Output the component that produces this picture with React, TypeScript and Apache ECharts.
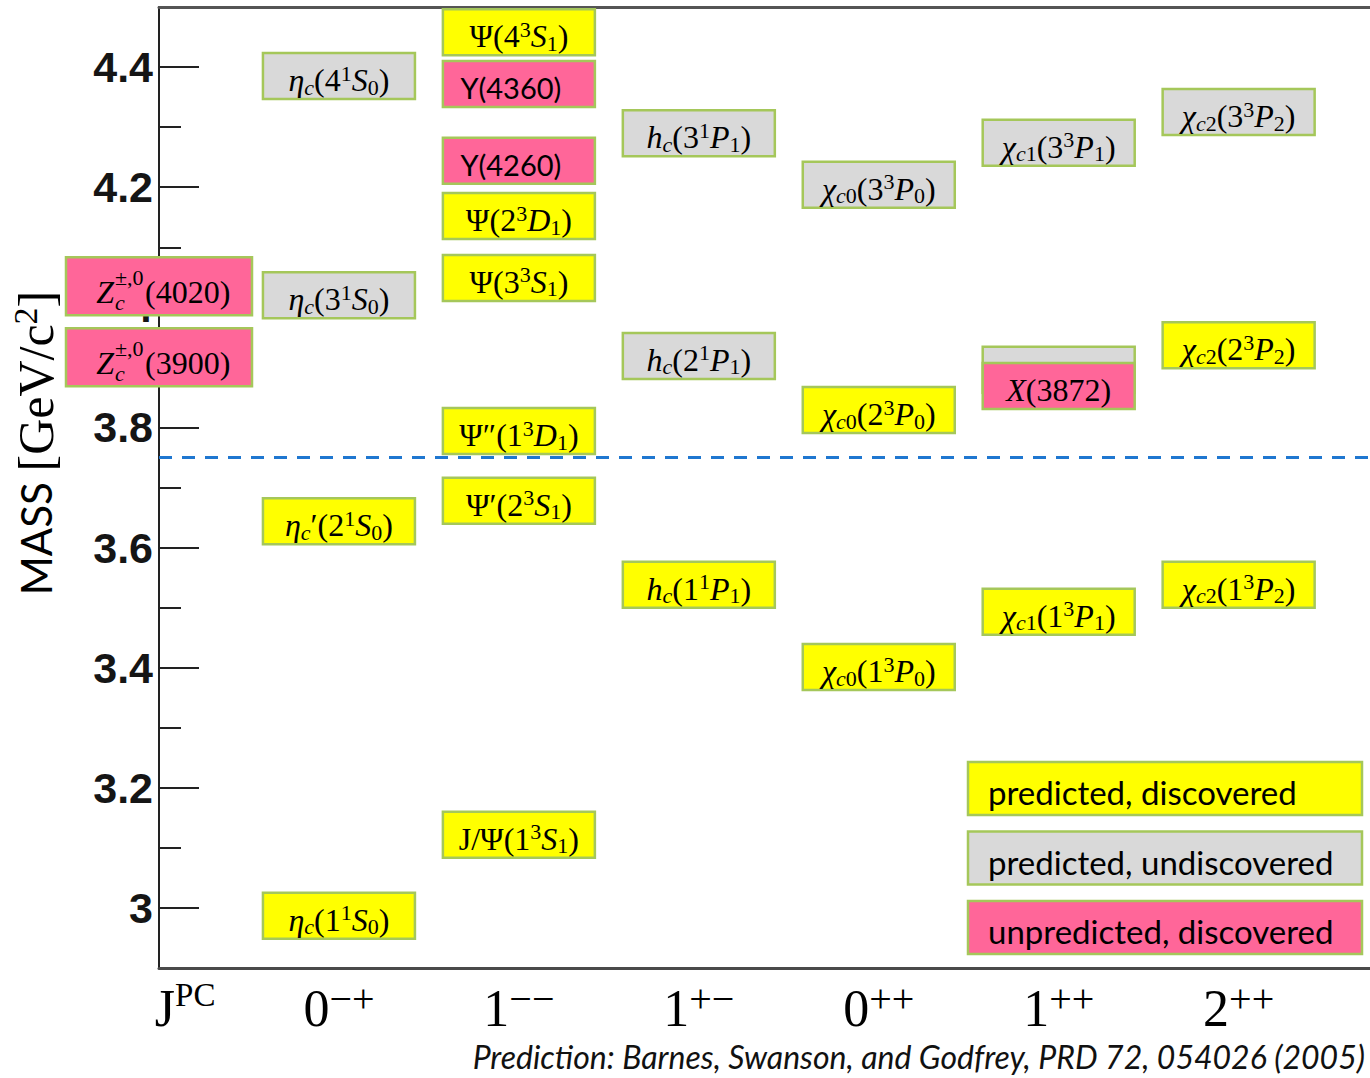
import React, { useEffect, useRef } from 'react';
import * as echarts from 'echarts';

const SERIF = '"Liberation Serif", "DejaVu Serif", serif';
const SANS = 'Lato, "Liberation Sans", sans-serif';
const BORDER = '#a5c75a';
const YELLOW = '#ffff00';
const GRAY = '#d9d9d9';
const PINK = '#ff6699';

// x-axis: J^PC column labels and their positions
const jpcLabels = ['{n|J}{p|PC}', '{n|0}{s|−+}', '{n|1}{s|−−}', '{n|1}{s|+−}', '{n|0}{s|++}', '{n|1}{s|++}', '{n|2}{s|++}'];
const jpcPositions = [0.145, 1, 2, 3, 4, 5, 6];

// y-axis
const massRange = [2.9, 4.5];
const majorTicks = [3, 3.2, 3.4, 3.6, 3.8, 4, 4.2, 4.4];
const minorTicks = [3.1, 3.3, 3.5, 3.7, 3.9, 4.1, 4.3];
const thresholdMass = 3.754;

// [column, mass (GeV), label]
const predictedDiscovered: [number, number, string][] = [
  [1, 3.644, 'η_c′(2^1S_0)'],
  [1, 2.987, 'η_c(1^1S_0)'],
  [2, 4.458, 'Ψ(4^3S_1)'],
  [2, 4.152, 'Ψ(2^3D_1)'],
  [2, 4.049, 'Ψ(3^3S_1)'],
  [2, 3.794, 'Ψ″(1^3D_1)'],
  [2, 3.678, 'Ψ′(2^3S_1)'],
  [2, 3.122, '`J/Ψ(1^3S_1)'],
  [3, 3.538, 'h_c(1^1P_1)'],
  [4, 3.829, 'χ_{c0}(2^3P_0)'],
  [4, 3.401, 'χ_{c0}(1^3P_0)'],
  [5, 3.493, 'χ_{c1}(1^3P_1)'],
  [6, 3.937, 'χ_{c2}(2^3P_2)'],
  [6, 3.538, 'χ_{c2}(1^3P_2)'],
];
const predictedUndiscovered: [number, number, string][] = [
  [1, 4.385, 'η_c(4^1S_0)'],
  [1, 4.02, 'η_c(3^1S_0)'],
  [3, 4.29, 'h_c(3^1P_1)'],
  [3, 3.919, 'h_c(2^1P_1)'],
  [4, 4.204, 'χ_{c0}(3^3P_0)'],
  [5, 4.274, 'χ_{c1}(3^3P_1)'],
  [5, 3.896, ''],
  [6, 4.325, 'χ_{c2}(3^3P_2)'],
];
const unpredictedDiscovered: [number, number, string][] = [
  [5, 3.869, 'X(3872)'],
];
const unpredictedVector: [number, number, string][] = [
  [2, 4.372, 'Y(4360)'],
  [2, 4.244, 'Y(4260)'],
];
const zcStates: [number, number, string][] = [
  [0, 4.035, '4020'],
  [0, 3.917, '3900'],
];
const legendItems = ['predicted, discovered', 'predicted, undiscovered', 'unpredicted, discovered'];
const legendColors = [YELLOW, GRAY, PINK];
const caption = 'Prediction: Barnes, Swanson, and Godfrey, PRD 72, 054026 (2005)';

function isItalicChar(ch: string) {
  return /[A-Za-zα-ω]/.test(ch);
}

function toRich(s: string): string {
  const toks: { st: string; ch: string }[] = [];
  let i = 0;
  let upright = false;
  const push = (mode: string, ch: string) => {
    if (ch === '`') { upright = true; return; }
    const it = !upright && isItalicChar(ch);
    upright = false;
    toks.push({ st: mode + (it ? 'i' : 'n'), ch });
  };
  while (i < s.length) {
    const ch = s[i];
    if (ch === '_' || ch === '^') {
      const mode = ch === '_' ? 'b' : 's';
      i++;
      let grp: string;
      if (s[i] === '{') {
        const j = s.indexOf('}', i);
        grp = s.slice(i + 1, j);
        i = j + 1;
      } else {
        grp = s[i];
        i++;
      }
      for (const g of grp) push(mode, g);
    } else {
      push('', ch);
      i++;
    }
  }
  let out = '';
  let cur = '';
  let buf = '';
  for (const t of toks) {
    const st = t.st.length === 1 ? 'm' + t.st : t.st;
    if (st !== cur && buf) {
      out += `{${cur}|${buf}}`;
      buf = '';
    }
    cur = st;
    buf += t.ch;
  }
  if (buf) out += `{${cur}|${buf}}`;
  return out;
}

const MAIN = 32;
const SMALL = 22;
const BOX_RICH: any = {
  mn: { fontFamily: SERIF, fontSize: MAIN, lineHeight: 36, verticalAlign: 'middle', fill: '#000' },
  mi: { fontFamily: SERIF, fontSize: MAIN, fontStyle: 'italic', lineHeight: 36, verticalAlign: 'middle', fill: '#000' },
  sn: { fontFamily: SERIF, fontSize: SMALL, lineHeight: 25, verticalAlign: 'top', fill: '#000' },
  si: { fontFamily: SERIF, fontSize: SMALL, fontStyle: 'italic', lineHeight: 25, verticalAlign: 'top', fill: '#000' },
  bn: { fontFamily: SERIF, fontSize: SMALL, lineHeight: 19, verticalAlign: 'bottom', fill: '#000' },
  bi: { fontFamily: SERIF, fontSize: SMALL, fontStyle: 'italic', lineHeight: 19, verticalAlign: 'bottom', fill: '#000' },
};

const BOX_W = 152;
const BOX_H = 46;
const ZC_W = 186;
const ZC_H = 58;

function boxRenderer(rows: [number, number, string][], fill: string, sans: boolean) {
  return (params: any, api: any) => {
    const p = api.coord([api.value(0), api.value(1)]);
    const label = rows[params.dataIndex][2];
    const children: any[] = [
      {
        type: 'rect',
        shape: { x: p[0] - BOX_W / 2, y: p[1] - BOX_H / 2, width: BOX_W, height: BOX_H },
        style: { fill, stroke: BORDER, lineWidth: 2.5 },
      },
    ];
    if (label) {
      children.push(
        sans
          ? {
              type: 'text',
              x: p[0] - 8,
              y: p[1] + 4,
              style: { text: label, font: `29px ${SANS}`, fill: '#000', align: 'center', verticalAlign: 'middle' },
            }
          : {
              type: 'text',
              x: p[0],
              y: p[1] + 4,
              style: { text: toRich(label), rich: BOX_RICH, fill: '#000', align: 'center', verticalAlign: 'middle', font: `${MAIN}px ${SERIF}` },
            }
      );
    }
    return { type: 'group', children };
  };
}

function zcRenderer(params: any, api: any) {
  const p = api.coord([api.value(0), api.value(1)]);
  const m = zcStates[params.dataIndex][2];
  const ax = p[0] - 45;
  return {
    type: 'group',
    children: [
      {
        type: 'rect',
        shape: { x: p[0] - ZC_W / 2, y: p[1] - ZC_H / 2, width: ZC_W, height: ZC_H },
        style: { fill: PINK, stroke: BORDER, lineWidth: 2.5 },
      },
      { type: 'text', x: ax, y: p[1] + 6, style: { text: 'Z', font: `italic ${MAIN}px ${SERIF}`, fill: '#000', align: 'right', verticalAlign: 'middle' } },
      { type: 'text', x: ax + 1, y: p[1] - 9, style: { text: '±,0', font: `${SMALL}px ${SERIF}`, fill: '#000', align: 'left', verticalAlign: 'middle' } },
      { type: 'text', x: ax + 1, y: p[1] + 16, style: { text: 'c', font: `italic ${SMALL}px ${SERIF}`, fill: '#000', align: 'left', verticalAlign: 'middle' } },
      { type: 'text', x: ax + 31, y: p[1] + 6, style: { text: `(${m})`, font: `${MAIN}px ${SERIF}`, fill: '#000', align: 'left', verticalAlign: 'middle' } },
    ],
  };
}

function boxSeries(name: string, rows: [number, number, string][], fill: string, sans = false, extra: any = {}) {
  return {
    name,
    type: 'custom',
    silent: true,
    clip: false,
    xAxisIndex: 0,
    yAxisIndex: 0,
    renderItem: boxRenderer(rows, fill, sans),
    encode: { x: 0, y: 1 },
    data: rows.map((r) => [r[0], r[1]]),
    ...extra,
  };
}

export default function App() {
  const ref = useRef<HTMLDivElement>(null);
  useEffect(() => {
    if (!ref.current) return;
    const chart = echarts.init(ref.current, null, { renderer: 'svg' });
    const xMax = 6.73;
    const option: any = {
      animation: false,
      backgroundColor: '#fff',
      grid: { left: 159, right: 0, top: 7, bottom: 110, containLabel: false },
      xAxis: [
        {
          type: 'value',
          min: 0,
          max: xMax,
          position: 'bottom',
          axisLine: { show: true, onZero: false, lineStyle: { color: '#4a4a4a', width: 3 } },
          axisTick: { show: false },
          splitLine: { show: false },
          axisLabel: {
            customValues: jpcPositions,
            margin: 10,
            formatter: (v: number) => {
              const k = jpcPositions.findIndex((q) => Math.abs(q - v) < 1e-6);
              return k >= 0 ? jpcLabels[k] : '';
            },
            rich: {
              n: { fontFamily: SERIF, fontSize: 52, lineHeight: 60, verticalAlign: 'middle', color: '#000' },
              s: { fontFamily: SERIF, fontSize: 40, lineHeight: 38, verticalAlign: 'top', color: '#000' },
              p: { fontFamily: SERIF, fontSize: 33, lineHeight: 32, verticalAlign: 'top', color: '#000' },
            },
          },
        },
        {
          type: 'value',
          min: 0,
          max: xMax,
          position: 'top',
          axisLine: { show: true, onZero: false, lineStyle: { color: '#555', width: 3 } },
          axisTick: { show: false },
          axisLabel: { show: false },
          splitLine: { show: false },
        },
      ],
      yAxis: [
        {
          type: 'value',
          min: massRange[0],
          max: massRange[1],
          position: 'left',
          axisLine: { show: true, onZero: false, lineStyle: { color: '#222', width: 2 } },
          axisTick: { show: true, inside: true, length: 40, customValues: majorTicks, lineStyle: { color: '#222', width: 2 } },
          axisLabel: {
            customValues: majorTicks,
            margin: 6,
            fontFamily: '"Liberation Sans", Arial, sans-serif',
            fontWeight: 'bold',
            fontSize: 43,
            color: '#151515',
          },
          splitLine: { show: false },
        },
        {
          type: 'value',
          min: massRange[0],
          max: massRange[1],
          position: 'left',
          axisLine: { show: false },
          axisTick: { show: true, inside: true, length: 22, customValues: minorTicks, lineStyle: { color: '#222', width: 2 } },
          axisLabel: { show: false },
          splitLine: { show: false },
        },
      ],
      series: [
        boxSeries('predicted, discovered', predictedDiscovered, YELLOW, false, {
          markLine: {
            silent: true,
            symbol: ['none', 'none'],
            label: { show: false },
            lineStyle: { type: [13, 10], width: 3, color: '#1f77d0' },
            data: [{ yAxis: thresholdMass }],
          },
        }),
        boxSeries('predicted, undiscovered', predictedUndiscovered, GRAY),
        boxSeries('unpredicted, discovered', unpredictedDiscovered, PINK),
        boxSeries('unpredicted vector', unpredictedVector, PINK, true),
        {
          name: 'Zc',
          type: 'custom',
          silent: true,
          clip: false,
          renderItem: zcRenderer,
          encode: { x: 0, y: 1 },
          data: zcStates.map((r) => [r[0], r[1]]),
        },
      ],
      graphic: [
        ...legendItems.map((t, k) => ({
          type: 'group',
          x: 968,
          y: 762 + k * 69.5,
          children: [
            { type: 'rect', shape: { x: 0, y: 0, width: 394, height: 53 }, style: { fill: legendColors[k], stroke: BORDER, lineWidth: 2.5 } },
            { type: 'text', x: 20, y: 30, style: { text: t, font: `33px ${SANS}`, fill: '#000', align: 'left', verticalAlign: 'middle' } },
          ],
        })),
        {
          type: 'text',
          x: 36,
          y: 443,
          rotation: Math.PI / 2,
          style: {
            text: '{m|MASS}{g| }{s|[GeV/c}{p|2}{s|]}',
            align: 'center',
            verticalAlign: 'middle',
            rich: {
              m: { fontFamily: SANS, fontSize: 42, lineHeight: 56, verticalAlign: 'middle', fill: '#000' },
              g: { fontFamily: SANS, fontSize: 42, lineHeight: 56, verticalAlign: 'middle', fill: '#000' },
              s: { fontFamily: SERIF, fontSize: 50, lineHeight: 56, verticalAlign: 'middle', fill: '#000' },
              p: { fontFamily: SERIF, fontSize: 34, lineHeight: 40, verticalAlign: 'top', fill: '#000' },
            },
          },
        },
        {
          type: 'text',
          x: 1365,
          y: 1056,
          style: { text: caption, font: `italic 32px ${SANS}`, fill: '#111', align: 'right', verticalAlign: 'middle', lineHeight: 34 },
        },
      ],
    };
    chart.setOption(option);
    return () => chart.dispose();
  }, []);
  return <div ref={ref} style={{ position: 'fixed', left: 0, top: 0, width: 1370, height: 1078 }} />;
}
